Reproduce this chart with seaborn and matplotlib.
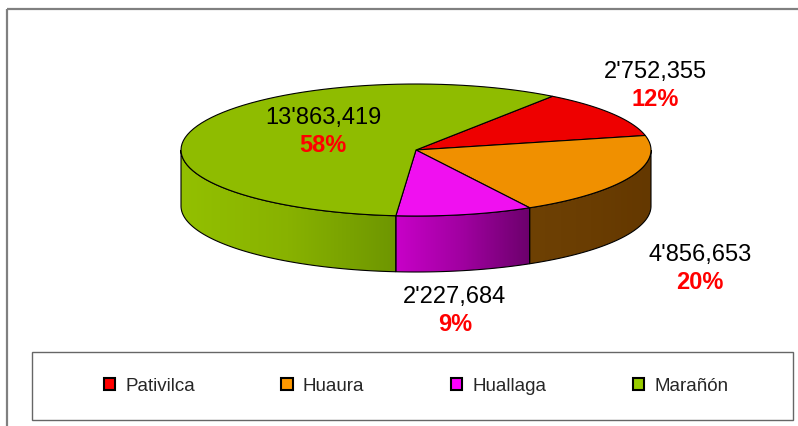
import numpy as np
import seaborn as sns
import matplotlib.pyplot as plt
from matplotlib.patches import Polygon, Patch, Rectangle
from matplotlib.colors import LinearSegmentedColormap

# Data
basins = ['Pativilca', 'Huaura', 'Huallaga', 'Marañón']
volumes = [2752355, 4856653, 2227684, 13863419]

# Colors: top face, side gradient (left -> right), legend swatch
top_colors = ['#ee0000', '#f09000', '#f010f0', '#8fbc00']
side_colors = [('#b00000', '#b00000', '#800000'), ('#6e4104', '#6a3d02', '#643800'),
               ('#c800c8', '#a000a0', '#6c006c'), ('#93c000', '#88b200', '#6e9600')]
legend_colors = ['#ff0000', '#ff9900', '#ff00ff', '#99cc00']

# Label positions in pixel space (layout only)
label_pos = [(655, 72), (700, 255), (455, 297), (323, 118)]

# Pie geometry (pixels)
cx, cy = 416, 151
a, b = 235, 66
depth = 56
start_angle = 35.5  # degrees clockwise from 12 o'clock

sns.set_style('white')
plt.rcParams['font.family'] = ['Liberation Sans', 'DejaVu Sans']

fig = plt.figure(figsize=(7.98, 4.27), dpi=100)
ax = fig.add_axes([0, 0, 1, 1])
ax.set_xlim(0, 798)
ax.set_ylim(427, 0)
ax.axis('off')


def ellipse_pts(t1, t2, dy=0.0, n=80):
    t = np.radians(np.linspace(t1, t2, n))
    return np.column_stack([cx + a * np.sin(t), cy - b * np.cos(t) + dy])


def fmt_volume(v):
    s = f'{v:,}'
    if s.count(',') > 1:
        s = s.replace(',', "'", 1)
    return s


total = sum(volumes)
angles = [v / total * 360 for v in volumes]
bounds = start_angle + np.concatenate([[0], np.cumsum(angles)])

# Side walls (only the front half, 90..270 degrees, is visible)
for i in range(len(volumes)):
    t1, t2 = bounds[i], bounds[i + 1]
    for shift in (0, 360, -360):
        s1, s2 = max(t1 + shift, 90), min(t2 + shift, 270)
        if s2 <= s1:
            continue
        top = ellipse_pts(s1, s2)
        bot = ellipse_pts(s2, s1, dy=depth)
        pts = np.vstack([top, bot])
        poly = Polygon(pts, closed=True, facecolor='none', edgecolor='black', lw=0.8, zorder=3)
        ax.add_patch(poly)
        cmap = LinearSegmentedColormap.from_list('side', side_colors[i])
        x0, x1 = pts[:, 0].min(), pts[:, 0].max()
        y0, y1 = pts[:, 1].min(), pts[:, 1].max()
        grad = np.linspace(0, 1, 256).reshape(1, -1)
        im = ax.imshow(grad, cmap=cmap, extent=(x0, x1, y1, y0), aspect='auto', zorder=2)
        im.set_clip_path(poly)

# Top faces
for i in range(len(volumes)):
    arc = ellipse_pts(bounds[i], bounds[i + 1])
    pts = np.vstack([[cx, cy], arc])
    ax.add_patch(Polygon(pts, closed=True, facecolor=top_colors[i], edgecolor='black', lw=0.8, zorder=4))

# Value and percentage labels
for i, v in enumerate(volumes):
    x, y = label_pos[i]
    ax.text(x, y, fmt_volume(v), ha='center', va='center', fontsize=17, color='black', zorder=5)
    ax.text(x, y + 28, f'{round(v / total * 100)}%', ha='center', va='center', fontsize=17,
            fontweight='bold', color='#ff0000', zorder=5)

# Outer chart frame (top and left edges visible)
ax.plot([7, 798], [10, 10], color='#808080', lw=1.6, solid_capstyle='butt')
ax.plot([7, 7], [10, 427], color='#808080', lw=1.6, solid_capstyle='butt')

# Legend frame
ax.add_patch(Rectangle((32, 353), 761, 68, facecolor='white', edgecolor='#666666', lw=1.0, zorder=1))

handles = [Patch(facecolor=c, edgecolor='black', lw=1.5) for c in legend_colors]
ax.legend(handles, basins, ncol=4, loc='center', bbox_to_anchor=(416 / 798, 1 - 387 / 427),
          bbox_transform=fig.transFigure, frameon=False, fontsize=13.5,
          handlelength=0.6, handleheight=0.6, handletextpad=0.55, columnspacing=4.6)

fig.savefig('out.png', dpi=100)
